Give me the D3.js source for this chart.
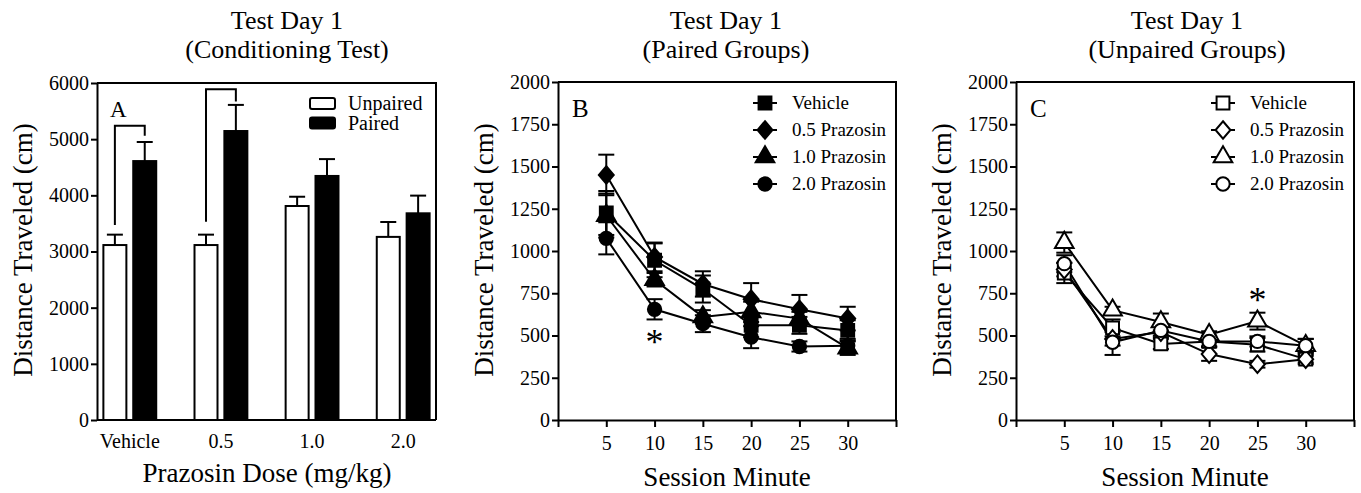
<!DOCTYPE html>
<html>
<head>
<meta charset="utf-8">
<script src="https://cdn.jsdelivr.net/npm/d3@7"></script>
<style>
  body { margin: 0; background: #fff; }
  svg, svg text { font-family: "Liberation Serif", "Times New Roman", serif; fill: #000; }
  .axis path, .axis line { stroke: #000; stroke-width: 2px; }
</style>
</head>
<body>
<div id="chart-area"></div>
<script>
// Panel A data
var doseLabels = ["Vehicle", "0.5", "1.0", "2.0"];
var barGroups = ["Unpaired", "Paired"];
var unpairedMeans = [3115, 3115, 3810, 3260];
var unpairedSEM = [185, 185, 165, 265];
var pairedMeans = [4610, 5145, 4345, 3680];
var pairedSEM = [340, 465, 300, 315];

// Panel B / C data
var minutes = [5, 10, 15, 20, 25, 30];
var groupNames = ["Vehicle", "0.5 Prazosin", "1.0 Prazosin", "2.0 Prazosin"];
var yTicksAB = [0, 250, 500, 750, 1000, 1250, 1500, 1750, 2000];

var pairedVehicle = [1225, 945, 775, 560, 560, 530];
var pairedVehicleErr = [130, 100, 80, 70, 50, 60];
var paired05 = [1450, 965, 805, 715, 655, 600];
var paired05Err = [120, 85, 75, 95, 85, 70];
var paired10 = [1210, 830, 610, 640, 600, 425];
var paired10Err = [130, 40, 40, 60, 40, 40];
var paired20 = [1075, 655, 570, 490, 435, 440];
var paired20Err = [95, 60, 50, 65, 30, 40];

var unpairedVehicle = [870, 545, 450, 465, 445, 360];
var unpairedVehicleErr = [60, 50, 30, 30, 40, 30];
var unpaired05 = [890, 480, 520, 390, 330, 360];
var unpaired05Err = [40, 40, 30, 40, 20, 20];
var unpaired10 = [1050, 650, 580, 505, 585, 440];
var unpaired10Err = [60, 20, 50, 20, 50, 40];
var unpaired20 = [925, 460, 530, 465, 465, 440];
var unpaired20Err = [50, 75, 30, 30, 30, 40];

var W = 1361, H = 493;
var FONT = "Liberation Serif, Times New Roman, serif";
var svg = d3.select("#chart-area").append("svg")
  .attr("width", W).attr("height", H)
  .attr("font-family", FONT);

// custom GraphPad style diamond
var diamondType = {
  draw: function (ctx, size) {
    var h = Math.sqrt(size) * 0.62, w = h * 0.85;
    ctx.moveTo(0, -h); ctx.lineTo(w, 0); ctx.lineTo(0, h); ctx.lineTo(-w, 0); ctx.closePath();
  }
};
var symbolTypes = [d3.symbolSquare, diamondType, d3.symbolTriangle, d3.symbolCircle];
var symbolSizes = [165, 200, 150, 140];

function txt(x, y, size, s, anchor) {
  return svg.append("text").attr("x", x).attr("y", y)
    .attr("font-family", FONT).attr("font-size", size + "px")
    .attr("text-anchor", anchor || "start").text(s);
}

function title(cx, l1, l2) {
  txt(cx, 29, 26, l1, "middle");
  txt(cx, 58, 26, l2, "middle");
}

function yLabel(x, cy) {
  svg.append("text")
    .attr("transform", "translate(" + x + "," + cy + ") rotate(-90)")
    .attr("text-anchor", "middle").attr("font-size", "27px").attr("font-family", FONT)
    .text("Distance Traveled (cm)");
}

function frame(x0, x1, top, bottom) {
  svg.append("path")
    .attr("d", "M" + x0 + "," + top + "H" + x1 + "V" + bottom)
    .attr("fill", "none").attr("stroke", "#000").attr("stroke-width", 2);
}

function styleAxis(g) {
  g.attr("font-family", FONT);
  g.selectAll("text").attr("font-size", "20px").attr("font-family", FONT);
}

// ---------------- Panel A ----------------
(function () {
  var x0 = 97, x1 = 436, top = 83, bottom = 420;
  var y = d3.scaleLinear().domain([0, 6000]).range([bottom, top]);
  var x = d3.scaleBand().domain(doseLabels).range([x0, x1])
    .paddingInner(0.42).paddingOuter(0.07);
  var xs = d3.scaleBand().domain(barGroups).range([0, x.bandwidth()]).paddingInner(0.23);

  title(287, "Test Day 1", "(Conditioning Test)");
  yLabel(32, 250);
  frame(x0, x1, top, bottom);

  var yAxis = svg.append("g").attr("class", "axis")
    .attr("transform", "translate(" + x0 + ",0)")
    .call(d3.axisLeft(y).tickValues(d3.range(0, 6001, 1000)).tickFormat(d3.format("d"))
      .tickSize(6).tickSizeOuter(0).tickPadding(2));
  styleAxis(yAxis);

  var xAxis = svg.append("g").attr("class", "axis")
    .attr("transform", "translate(0," + bottom + ")")
    .call(d3.axisBottom(x).tickSize(0).tickSizeOuter(0).tickPadding(14));
  xAxis.select(".domain").attr("d", "M" + x0 + ",0H" + x1);
  styleAxis(xAxis);

  txt(267, 482, 27, "Prazosin Dose (mg/kg)", "middle");

  var flat = [];
  doseLabels.forEach(function (d, i) {
    flat.push({ dose: d, g: "Unpaired", v: unpairedMeans[i], e: unpairedSEM[i] });
    flat.push({ dose: d, g: "Paired", v: pairedMeans[i], e: pairedSEM[i] });
  });

  // error bars (upwards only)
  var eb = svg.append("g").attr("stroke", "#000").attr("stroke-width", 2);
  flat.forEach(function (d) {
    var cx = x(d.dose) + xs(d.g) + xs.bandwidth() / 2;
    eb.append("line").attr("x1", cx).attr("x2", cx).attr("y1", y(d.v)).attr("y2", y(d.v + d.e));
    eb.append("line").attr("x1", cx - 8).attr("x2", cx + 8).attr("y1", y(d.v + d.e)).attr("y2", y(d.v + d.e));
  });

  svg.append("g").selectAll("rect").data(flat).enter().append("rect")
    .attr("x", function (d) { return x(d.dose) + xs(d.g); })
    .attr("y", function (d) { return y(d.v); })
    .attr("width", xs.bandwidth())
    .attr("height", function (d) { return y(0) - y(d.v); })
    .attr("fill", function (d) { return d.g === "Paired" ? "#000" : "#fff"; })
    .attr("stroke", "#000").attr("stroke-width", 2);

  // significance brackets: [dose index, start, top, end]
  [[0, 3470, 5240, 5060], [1, 3530, 5890, 5670]].forEach(function (b) {
    var d = doseLabels[b[0]];
    var xa = x(d) + xs("Unpaired") + xs.bandwidth() / 2;
    var xb = x(d) + xs("Paired") + xs.bandwidth() / 2;
    svg.append("path")
      .attr("d", "M" + xa + "," + y(b[1]) + "V" + y(b[2]) + "H" + xb + "V" + y(b[3]))
      .attr("fill", "none").attr("stroke", "#000").attr("stroke-width", 2);
  });

  txt(110, 117, 23, "A");

  // legend
  barGroups.forEach(function (g, i) {
    svg.append("rect").attr("x", 310).attr("y", 98 + i * 19.5).attr("width", 25).attr("height", 11)
      .attr("rx", 2).attr("fill", g === "Paired" ? "#000" : "#fff")
      .attr("stroke", "#000").attr("stroke-width", 2);
    txt(348, 110 + i * 20, 20, g);
  });
})();

// ---------------- Line panels ----------------
function linePanel(cfg) {
  var top = 82, bottom = 420;
  var x = d3.scaleLinear().domain([0, 35]).range([cfg.x0, cfg.x1]);
  var y = d3.scaleLinear().domain([0, 2000]).range([bottom, top]);

  title(cfg.titleX, "Test Day 1", cfg.title2);
  yLabel(cfg.x0 - 65, 250);
  frame(cfg.x0, cfg.x1, top, bottom);

  var yAxis = svg.append("g").attr("class", "axis")
    .attr("transform", "translate(" + cfg.x0 + ",0)")
    .call(d3.axisLeft(y).tickValues(yTicksAB).tickFormat(d3.format("d"))
      .tickSize(6).tickSizeOuter(0).tickPadding(2));
  styleAxis(yAxis);

  var xAxis = svg.append("g").attr("class", "axis")
    .attr("transform", "translate(0," + bottom + ")")
    .call(d3.axisBottom(x).tickValues(d3.range(0, 36, 5)).tickSize(7).tickSizeOuter(0).tickPadding(9)
      .tickFormat(function (d) { return (d > 0 && d < 35) ? d : ""; }));
  styleAxis(xAxis);

  txt((cfg.x0 + cfg.x1) / 2, 486, 27, "Session Minute", "middle");

  var series = groupNames.map(function (name, i) {
    return minutes.map(function (m, j) {
      return { m: m, v: cfg.values[i][j], e: cfg.errors[i][j] };
    });
  });

  var line = d3.line().x(function (d) { return x(d.m); }).y(function (d) { return y(d.v); });

  var eb = svg.append("g").attr("stroke", "#000").attr("stroke-width", 2);
  series.forEach(function (s) {
    s.forEach(function (d) {
      var cx = x(d.m);
      eb.append("line").attr("x1", cx).attr("x2", cx).attr("y1", y(d.v - d.e)).attr("y2", y(d.v + d.e));
      [d.v - d.e, d.v + d.e].forEach(function (v) {
        eb.append("line").attr("x1", cx - 8).attr("x2", cx + 8).attr("y1", y(v)).attr("y2", y(v));
      });
    });
  });

  series.forEach(function (s) {
    svg.append("path").datum(s).attr("d", line)
      .attr("fill", "none").attr("stroke", "#000").attr("stroke-width", 2);
  });

  var fill = cfg.open ? "#fff" : "#000";
  series.forEach(function (s, i) {
    svg.append("g").selectAll("path").data(s).enter().append("path")
      .attr("transform", function (d) { return "translate(" + x(d.m) + "," + y(d.v) + ")"; })
      .attr("d", d3.symbol().type(symbolTypes[i]).size(symbolSizes[i]))
      .attr("fill", fill).attr("stroke", "#000").attr("stroke-width", 2);
  });

  // asterisk
  txt(x(cfg.star[0]), y(cfg.star[1]), 36, "*", "middle");

  txt(cfg.x0 + 14, 117, 25, cfg.letter);

  // legend
  groupNames.forEach(function (name, i) {
    var ly = 103 + i * 27, lx = cfg.legendX;
    svg.append("line").attr("x1", lx - 12).attr("x2", lx + 12).attr("y1", ly).attr("y2", ly)
      .attr("stroke", "#000").attr("stroke-width", 2);
    svg.append("path").attr("transform", "translate(" + lx + "," + ly + ")")
      .attr("d", d3.symbol().type(symbolTypes[i]).size(symbolSizes[i]))
      .attr("fill", fill).attr("stroke", "#000").attr("stroke-width", 2);
    txt(lx + 27, ly + 6, 19, name);
  });
}

linePanel({
  x0: 558, x1: 896, titleX: 726, title2: "(Paired Groups)", letter: "B", legendX: 765, open: false,
  values: [pairedVehicle, paired05, paired10, paired20],
  errors: [pairedVehicleErr, paired05Err, paired10Err, paired20Err],
  star: [10, 390]
});

linePanel({
  x0: 1016, x1: 1354, titleX: 1187, title2: "(Unpaired Groups)", letter: "C", legendX: 1223, open: true,
  values: [unpairedVehicle, unpaired05, unpaired10, unpaired20],
  errors: [unpairedVehicleErr, unpaired05Err, unpaired10Err, unpaired20Err],
  star: [25, 637]
});
</script>
</body>
</html>
